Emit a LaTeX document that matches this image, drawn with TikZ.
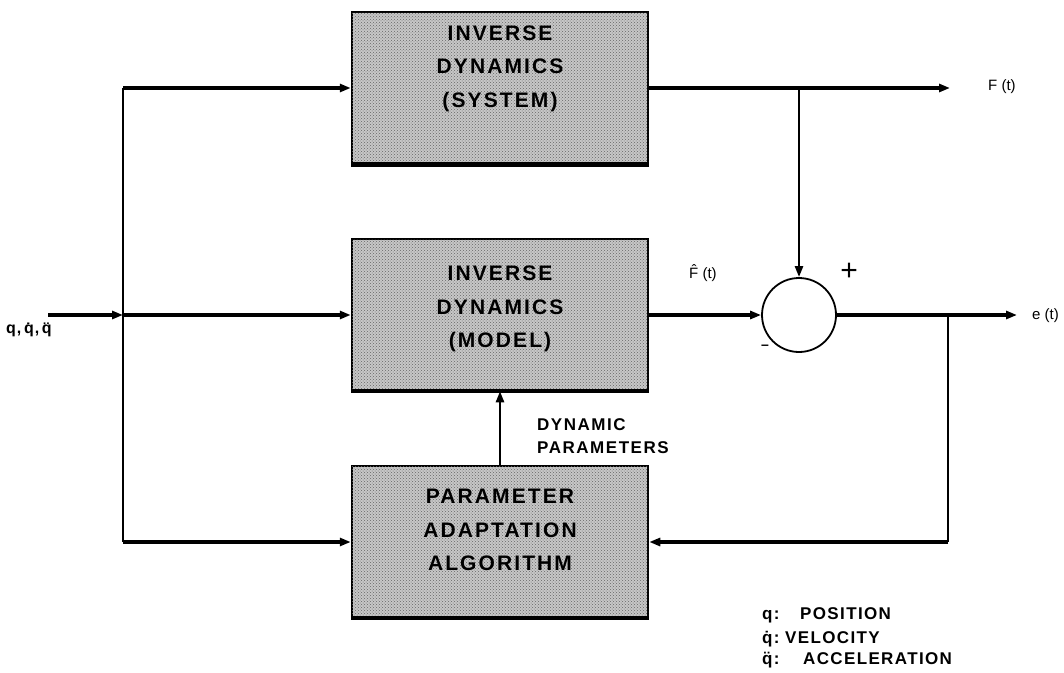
\documentclass[tikz,border=0pt]{standalone}
\usepackage{fontspec}
\setmainfont{Liberation Sans}
\usetikzlibrary{arrows.meta,patterns}
\begin{document}
\begin{tikzpicture}[x=1pt,y=-1pt,
  blk/.style={draw=black, line width=2.5pt, fill=black!22,
    postaction={pattern=crosshatch dots, pattern color=black!60},
    minimum width=296pt, minimum height=151pt, inner sep=0pt},
  blktxt/.style={align=center, font=\fontsize{21}{33.5}\selectfont\bfseries\addfontfeature{LetterSpace=10}, inner sep=0pt},
  sumc/.style={circle, draw=black, line width=1.8pt, fill=white, minimum size=74pt, inner sep=0pt},
  wire/.style={line width=2.4pt},
  bus/.style={line width=3.6pt},
  arr/.style={-{Triangle[length=11pt,width=8pt]}},
  lbl/.style={font=\fontsize{15}{17}\selectfont, inner sep=0pt},
  blbl/.style={font=\fontsize{17}{23}\selectfont\bfseries\addfontfeature{LetterSpace=9}, inner sep=0pt, align=left},
  leg/.style={font=\fontsize{17}{19}\selectfont\bfseries\addfontfeature{LetterSpace=8}, inner sep=0pt, anchor=base west}]
\useasboundingbox (0,0) rectangle (1064,672);

\node[blk] (sys) at (500,87.5) {};
\node[blk] (model) at (500,314.5) {};
\node[blk] (paa) at (500,541.5) {};
\draw[line width=5pt] (sys.south west) -- (sys.south east);
\draw[line width=4pt] (model.south west) -- (model.south east);
\draw[line width=4pt] (paa.south west) -- (paa.south east);
\node[blktxt] (systxt) at (500,68.5) {INVERSE\\DYNAMICS\\(SYSTEM)};
\node[blktxt] (modeltxt) at (500,309) {INVERSE\\DYNAMICS\\(MODEL)};
\node[blktxt] (paatxt) at (500,530) {PARAMETER\\ADAPTATION\\ALGORITHM};
\node[sumc] (sum) at (799,315) {};

\coordinate (in) at (48,315);
\coordinate (j) at (123,315);
\coordinate (jt) at (123,88);
\coordinate (jb) at (123,542);
\coordinate (drop) at (799,88);
\coordinate (fout) at (950,88);
\coordinate (eout) at (1017,315);
\coordinate (fb) at (948,315);
\coordinate (fbb) at (948,542);
\coordinate (dp) at (500,0);

\draw[bus,arr] (in) -- (j);
\draw[wire] (jt) -- (jb);
\draw[bus,arr] (j) -- (j -| model.west);
\draw[bus,arr] (jt) -- (jt -| sys.west);
\draw[bus,arr] (jb) -- (jb -| paa.west);
\draw[bus,arr] (jt -| sys.east) -- (fout);
\draw[wire,arr] (drop) -- (sum.north);
\draw[bus,arr] (j -| model.east) -- (sum.west);
\draw[bus,arr] (sum.east) -- (eout);
\draw[wire] (fb) -- (fbb);
\draw[bus,arr] (fbb) -- (fbb -| paa.east);
\draw[wire,arr] (dp |- paa.north) -- (dp |- model.south);

\node[lbl, anchor=west] (ft) at (988,87) {F (t)};
\node[lbl, anchor=west] (et) at (1032,316) {e (t)};
\node[lbl, anchor=west] (fht) at (689,273) {F̂ (t)};
\node[font=\fontsize{30}{30}\selectfont, inner sep=0pt] (plus) at (849,272) {+};
\node[font=\fontsize{14}{14}\selectfont\bfseries, inner sep=1pt] (minus) at (765,347) {–};
\node[font=\fontsize{16}{18}\selectfont\bfseries\addfontfeature{LetterSpace=6}, inner sep=0pt, anchor=west] (qin) at (6,330) {q,\,q̇,\,q̈};
\node[blbl, anchor=west] (dyn1) at (537,425) {DYNAMIC};
\node[blbl, anchor=west] (dyn2) at (537,448) {PARAMETERS};

\node[leg] (l1a) at (762,619) {q:};
\node[leg] (l1b) at (800,619) {POSITION};
\node[leg] (l2a) at (762,643) {q̇:};
\node[leg] (l2b) at (785,643) {VELOCITY};
\node[leg] (l3a) at (762,664) {q̈:};
\node[leg] (l3b) at (803,664) {ACCELERATION};
\end{tikzpicture}
\end{document}
